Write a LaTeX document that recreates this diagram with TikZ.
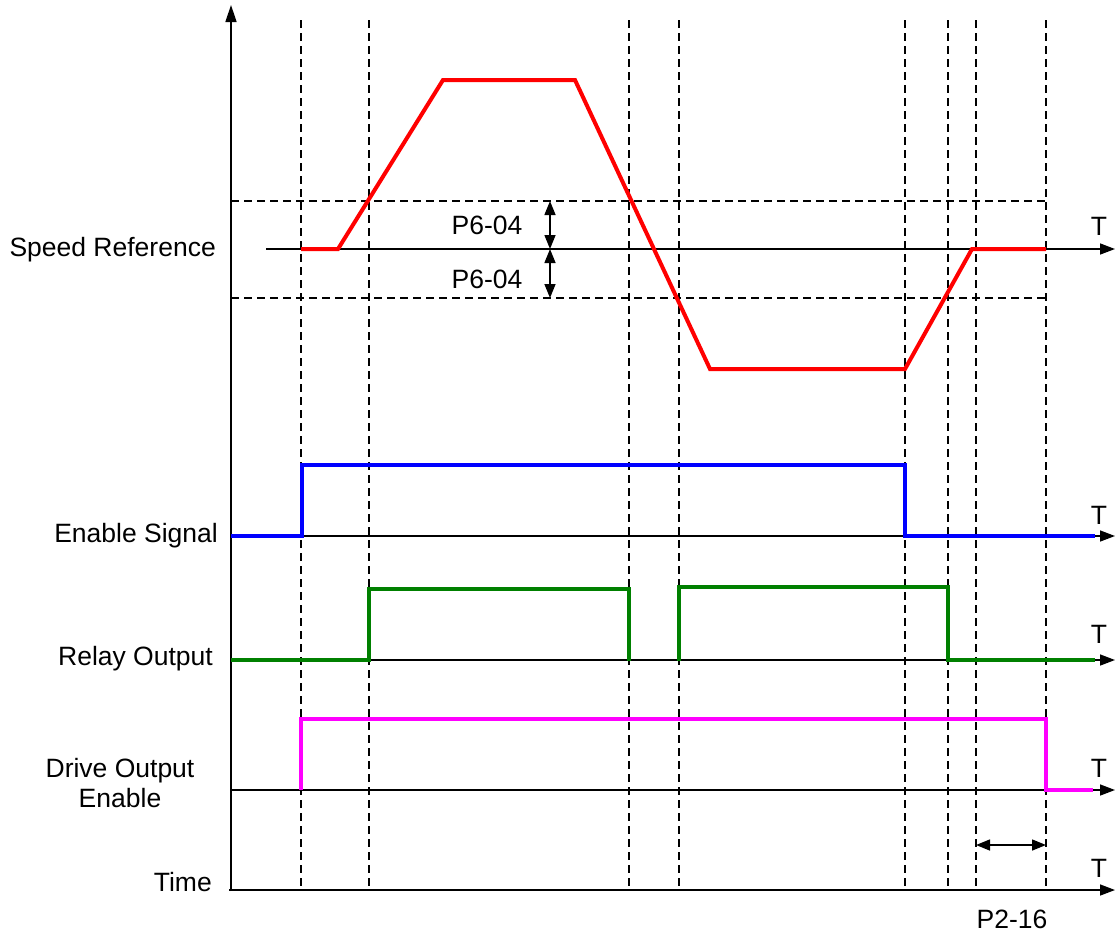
\documentclass[tikz,border=0pt]{standalone}
\usepackage{fontspec}
\setmainfont{Liberation Sans}
\usetikzlibrary{arrows.meta}
\definecolor{sigred}{RGB}{255,0,0}
\definecolor{sigblue}{RGB}{0,0,255}
\definecolor{siggreen}{RGB}{0,128,0}
\definecolor{sigmag}{RGB}{255,0,255}
\begin{document}
\begin{tikzpicture}[x=1pt,y=-1pt,
  axisline/.style={line width=1.5pt,-{Triangle[length=15pt,width=11pt]}},
  gridline/.style={line width=1.4pt,dash pattern=on 8pt off 5pt},
  sig/.style={line width=4pt,line join=miter,line cap=butt},
  lbl/.style={font=\fontsize{26.5}{30}\selectfont,inner sep=0pt},
  dimarrow/.style={line width=1.5pt,{Triangle[length=14pt,width=11pt]}-{Triangle[length=14pt,width=11pt]}}]
\useasboundingbox (0,0) rectangle (1117,932);

% vertical dashed guides
\foreach \x in {301,369,629,679,905,948,976,1046}{
  \draw[gridline] (\x,20) -- (\x,890);
}
% horizontal dashed band
\draw[gridline] (231,201) -- (1046,201);
\draw[gridline] (231,298) -- (1046,298);

% axes
\coordinate (yb) at (231,891);
\coordinate (yt) at (231,5);
\draw[line width=1.5pt,-{Triangle[length=17pt,width=11pt]}] (yb) -- (yt);
\coordinate (s0) at (266,249); \coordinate (s1) at (1115,249);
\coordinate (e0) at (231,536); \coordinate (e1) at (1115,536);
\coordinate (r0) at (231,660); \coordinate (r1) at (1115,660);
\coordinate (d0) at (231,790); \coordinate (d1) at (1115,790);
\coordinate (t0) at (229,890); \coordinate (t1) at (1115,890);
\draw[axisline] (s0) -- (s1);
\draw[axisline] (e0) -- (e1);
\draw[axisline] (r0) -- (r1);
\draw[axisline] (d0) -- (d1);
\draw[axisline] (t0) -- (t1);

% signals
\draw[sig,sigred] (301,249) -- (338,249) -- (443,80) -- (575,80) -- (710,369) -- (905,369) -- (972,249) -- (1046,249);
\draw[sig,sigblue] (231,536) -- (302,536) -- (302,465) -- (905,465) -- (905,536) -- (1095,536);
\draw[sig,siggreen] (231,660) -- (369,660) -- (369,589) -- (629,589) -- (629,661);
\draw[sig,siggreen] (679,661) -- (679,587) -- (948,587) -- (948,660) -- (1095,660);
\draw[sig,sigmag] (301,790) -- (301,719) -- (1046,719) -- (1046,790) -- (1093,790);

% dimension arrows
\coordinate (p1a) at (550,201); \coordinate (p1b) at (550,249);
\coordinate (p2a) at (550,249); \coordinate (p2b) at (550,298);
\draw[dimarrow] (p1a) -- (p1b);
\draw[dimarrow] (p2a) -- (p2b);
\coordinate (q1) at (976,845); \coordinate (q2) at (1046,845);
\draw[dimarrow] (q1) -- (q2);

% labels
\node[lbl,anchor=east] (lspeed) at (216,250) {Speed Reference};
\node[lbl,anchor=east] (lenable) at (218,536) {Enable Signal};
\node[lbl,anchor=east] (lrelay) at (213,659) {Relay Output};
\node[lbl,align=center] (ldrive) at (120,783) {Drive Output\\Enable};
\node[lbl,anchor=east] (ltime) at (212,882) {Time};
\node[lbl] (lp1) at (487,225) {P6-04};
\node[lbl] (lp2) at (487,279) {P6-04};
\node[lbl] (lp3) at (1012,919) {P2-16};
\foreach \y/\n in {226/ts,515/te,634/tr,768/td,868/tt}{
  \node[lbl] (\n) at (1099,\y) {T};
}
\end{tikzpicture}
\end{document}
